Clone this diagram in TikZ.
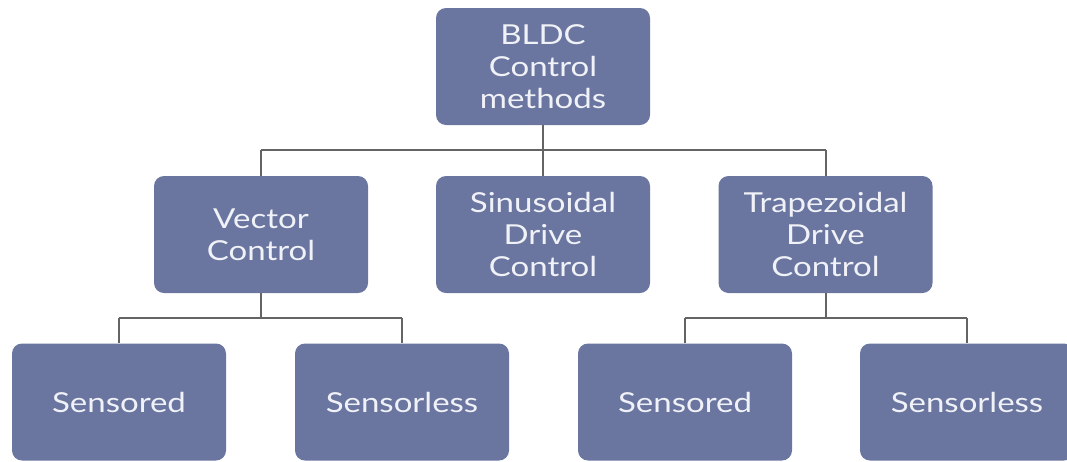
\documentclass[tikz,border=0pt]{standalone}
\usepackage{fontspec}
\setmainfont{Lato}[FakeStretch=1.2]
\definecolor{boxfill}{RGB}{106,118,160}
\definecolor{boxtext}{RGB}{240,242,248}
\definecolor{linkgray}{RGB}{100,100,100}
\begin{document}
\begin{tikzpicture}[x=1pt,y=-1pt,
  method/.style={fill=boxfill, rounded corners=10pt, minimum width=214pt,
    minimum height=117pt, text=boxtext, align=center,
    font=\fontsize{27.5}{32}\selectfont, inner sep=0pt},
  link/.style={draw=linkgray, line width=2pt}]
\useasboundingbox (0,0) rectangle (1067,461);
\clip (0,0) rectangle (1067,461);

% root
\node[method] (root) at (543,66.5) {BLDC\\Control\\methods};

% second level
\node[method] (vec) at (261,234.5) {Vector\\Control};
\node[method] (sin) at (543,234.5) {Sinusoidal\\Drive\\Control};
\node[method] (trap) at (825.5,234.5) {Trapezoidal\\Drive\\Control};

% third level
\node[method] (vs1) at (119,402) {Sensored};
\node[method] (vs2) at (402,402) {Sensorless};
\node[method] (ts1) at (685,402) {Sensored};
\node[method] (ts2) at (967,402) {Sensorless};

% tree connectors
\coordinate (j1) at (543,150);
\coordinate (j2) at (261,318);
\coordinate (j3) at (825.5,318);
\draw[link] (root.south) -- (j1);
\draw[link] (j1 -| vec.north) -- (j1 -| trap.north);
\draw[link] (j1 -| vec.north) -- (vec.north);
\draw[link] (j1) -- (sin.north);
\draw[link] (j1 -| trap.north) -- (trap.north);

\draw[link] (vec.south) -- (j2);
\draw[link] (j2 -| vs1.north) -- (j2 -| vs2.north);
\draw[link] (j2 -| vs1.north) -- (vs1.north);
\draw[link] (j2 -| vs2.north) -- (vs2.north);

\draw[link] (trap.south) -- (j3);
\draw[link] (j3 -| ts1.north) -- (j3 -| ts2.north);
\draw[link] (j3 -| ts1.north) -- (ts1.north);
\draw[link] (j3 -| ts2.north) -- (ts2.north);
\end{tikzpicture}
\end{document}
